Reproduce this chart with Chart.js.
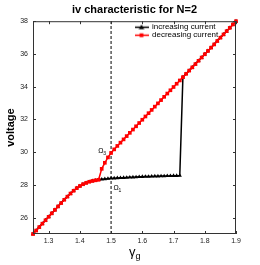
<!DOCTYPE html>
<html>
<head>
<meta charset="utf-8">
<script src="https://cdn.jsdelivr.net/npm/chart.js@4/dist/chart.umd.min.js"></script>
<style>
  html, body { margin: 0; padding: 0; background: #fff; }
  #ivChart { display: block; }
</style>
</head>
<body>
<canvas id="ivChart" width="260" height="265"></canvas>
<script>
// =========== DATA ============
const gamma = [
    1.25, 1.26, 1.27, 1.28, 1.29, 1.30, 1.31, 1.32, 1.33, 1.34,
    1.35, 1.36, 1.37, 1.38, 1.39, 1.40, 1.41, 1.42, 1.43, 1.44,
    1.45, 1.46, 1.47, 1.48, 1.49, 1.50, 1.51, 1.52, 1.53, 1.54,
    1.55, 1.56, 1.57, 1.58, 1.59, 1.60, 1.61, 1.62, 1.63, 1.64,
    1.65, 1.66, 1.67, 1.68, 1.69, 1.70, 1.71, 1.72, 1.73, 1.74,
    1.75, 1.76, 1.77, 1.78, 1.79, 1.80, 1.81, 1.82, 1.83, 1.84,
    1.85, 1.86, 1.87, 1.88, 1.89, 1.90
];

const increasingCurrent = [
    25.00, 25.21, 25.42, 25.63, 25.84, 26.05, 26.26, 26.47, 26.68, 26.89,
    27.09, 27.28, 27.47, 27.64, 27.80, 27.93, 28.04, 28.12, 28.19, 28.24,
    28.28, 28.31, 28.34, 28.36, 28.38, 28.40, 28.41, 28.42, 28.43, 28.44,
    28.45, 28.46, 28.47, 28.48, 28.49, 28.50, 28.51, 28.51, 28.52, 28.53,
    28.53, 28.54, 28.54, 28.55, 28.55, 28.56, 28.56, 28.57, 34.58, 34.78,
    34.98, 35.18, 35.38, 35.58, 35.78, 35.98, 36.18, 36.38, 36.58, 36.79,
    36.99, 37.19, 37.39, 37.59, 37.80, 38.00
];

const decreasingCurrent = [
    25.00, 25.21, 25.42, 25.63, 25.84, 26.05, 26.26, 26.47, 26.68, 26.89,
    27.09, 27.28, 27.47, 27.64, 27.80, 27.93, 28.04, 28.12, 28.19, 28.24,
    28.28, 28.31, 28.98, 29.35, 29.68, 29.95, 30.17, 30.38, 30.58, 30.78,
    30.98, 31.18, 31.38, 31.58, 31.78, 31.98, 32.18, 32.38, 32.58, 32.78,
    32.98, 33.18, 33.38, 33.58, 33.78, 33.98, 34.18, 34.38, 34.58, 34.78,
    34.98, 35.18, 35.38, 35.58, 35.78, 35.98, 36.18, 36.38, 36.58, 36.79,
    36.99, 37.19, 37.39, 37.59, 37.80, 38.00
];

const xTicks = [1.3, 1.4, 1.5, 1.6, 1.7, 1.8, 1.9];
const yTicks = [26, 28, 30, 32, 34, 36, 38];

// dashed marker at gamma_g = 1.5
const markerX = [1.5, 1.5];
const markerY = [25, 38];

// =========== HELPERS ============
function toPoints(xs, ys) {
    return xs.map((x, i) => ({ x: x, y: ys[i] }));
}

function legendIcon(color, style) {
    const c = document.createElement('canvas');
    c.width = 14;
    c.height = 7;
    const ctx = c.getContext('2d');
    ctx.strokeStyle = color;
    ctx.fillStyle = color;
    ctx.lineWidth = 1.5;
    ctx.beginPath();
    ctx.moveTo(0, 3.5);
    ctx.lineTo(14, 3.5);
    ctx.stroke();
    ctx.beginPath();
    if (style === 'triangle') {
        ctx.moveTo(7, 0.8);
        ctx.lineTo(9.8, 5.6);
        ctx.lineTo(4.2, 5.6);
        ctx.closePath();
    } else {
        ctx.rect(5.1, 1.6, 3.8, 3.8);
    }
    ctx.fill();
    return c;
}

const legendIcons = [legendIcon('#000', 'triangle'), legendIcon('#ff0000', 'rect')];

// frame, inward ticks, axis symbol and the Omega labels (matlab look)
const framePlugin = {
    id: 'frame',
    afterLayout(chart) {
        // legend sits inside the axes, upper right
        const lg = chart.legend;
        lg.left = chart.chartArea.right - 101;
        lg.top = chart.chartArea.top + 2;
    },
    afterDraw(chart) {
        const { ctx, chartArea: a, scales } = chart;
        const xs = scales.x, ys = scales.y;
        ctx.save();
        ctx.strokeStyle = '#333';
        ctx.lineWidth = 1;
        ctx.strokeRect(a.left + 0.5, a.top + 0.5, a.width - 1, a.height - 1);

        ctx.beginPath();
        xTicks.forEach(v => {
            const px = Math.round(xs.getPixelForValue(v)) + 0.5;
            ctx.moveTo(px, a.bottom); ctx.lineTo(px, a.bottom - 3);
            ctx.moveTo(px, a.top); ctx.lineTo(px, a.top + 3);
        });
        yTicks.forEach(v => {
            const py = Math.round(ys.getPixelForValue(v)) + 0.5;
            ctx.moveTo(a.left, py); ctx.lineTo(a.left + 3, py);
            ctx.moveTo(a.right, py); ctx.lineTo(a.right - 3, py);
        });
        ctx.stroke();

        // x axis label: gamma with subscript g
        const cx = (a.left + a.right) / 2;
        ctx.fillStyle = '#000';
        ctx.textBaseline = 'alphabetic';
        ctx.textAlign = 'right';
        ctx.font = '13px "Liberation Sans", Arial, sans-serif';
        ctx.fillText('\u03b3', cx + 1, 256);
        ctx.textAlign = 'left';
        ctx.font = '9px "Liberation Sans", Arial, sans-serif';
        ctx.fillText('g', cx + 1, 259);

        // Omega labels near the switching points
        const omega = (label, sub, gx, v) => {
            const px = xs.getPixelForValue(gx), py = ys.getPixelForValue(v);
            ctx.font = '7px "Liberation Sans", Arial, sans-serif';
            ctx.textAlign = 'left';
            ctx.fillText(label, px, py);
            ctx.font = '5px "Liberation Sans", Arial, sans-serif';
            ctx.fillText(sub, px + 5, py + 2.5);
        };
        omega('\u03a9', '3', 1.459, 29.95);
        omega('\u03a9', '1', 1.508, 27.7);
        ctx.restore();
    }
};

// =========== CHART ============
let ivChart;

function initChart() {
    const ctx = document.getElementById('ivChart').getContext('2d');
    ivChart = new Chart(ctx, {
        type: 'line',
        data: {
            datasets: [
                {
                    label: 'increasing current',
                    data: toPoints(gamma, increasingCurrent),
                    borderColor: '#000',
                    backgroundColor: '#000',
                    borderWidth: 1.5,
                    pointStyle: 'triangle',
                    pointRadius: 2.4,
                    pointBorderWidth: 0,
                    order: 1,
                    clip: false
                },
                {
                    label: 'decreasing current',
                    data: toPoints(gamma, decreasingCurrent),
                    borderColor: '#ff0000',
                    backgroundColor: '#ff0000',
                    borderWidth: 1.5,
                    pointStyle: 'rect',
                    pointRadius: 2.6,
                    pointBorderWidth: 0,
                    order: 0,
                    clip: false
                },
                {
                    label: 'marker',
                    data: toPoints(markerX, markerY),
                    borderColor: '#000',
                    borderWidth: 1,
                    borderDash: [3, 2],
                    pointRadius: 0,
                    order: 2
                }
            ]
        },
        options: {
            responsive: false,
            devicePixelRatio: 1,
            animation: false,
            layout: { padding: { left: 0, right: 24, top: 0, bottom: 0 } },
            plugins: {
                tooltip: { enabled: false },
                title: {
                    display: true,
                    text: 'iv characteristic for N=2',
                    fullSize: false,
                    color: '#000',
                    font: { family: '"Liberation Sans", Arial, sans-serif', size: 11, weight: 'bold' },
                    padding: { top: 3, bottom: 5 }
                },
                legend: {
                    display: true,
                    position: 'chartArea',
                    align: 'start',
                    labels: {
                        color: '#000',
                        font: { family: '"Liberation Sans", Arial, sans-serif', size: 8, lineHeight: 1.1 },
                        usePointStyle: true,
                        pointStyleWidth: 13,
                        padding: 0,
                        generateLabels(chart) {
                            const items = Chart.defaults.plugins.legend.labels.generateLabels(chart);
                            return items
                                .filter(it => it.datasetIndex < 2)
                                .sort((a, b) => a.datasetIndex - b.datasetIndex)
                                .map(it => { it.pointStyle = legendIcons[it.datasetIndex]; return it; });
                        }
                    }
                }
            },
            scales: {
                x: {
                    type: 'linear',
                    min: 1.25,
                    max: 1.9,
                    grid: { display: false, drawTicks: false },
                    border: { display: false },
                    afterBuildTicks: scale => { scale.ticks = xTicks.map(v => ({ value: v })); },
                    afterFit: scale => { scale.height = 31; },
                    ticks: {
                        color: '#222',
                        padding: 3,
                        maxRotation: 0,
                        font: { family: '"Liberation Sans", Arial, sans-serif', size: 7 },
                        callback: v => v.toFixed(1)
                    }
                },
                y: {
                    type: 'linear',
                    min: 25,
                    max: 38,
                    grid: { display: false, drawTicks: false },
                    border: { display: false },
                    afterBuildTicks: scale => { scale.ticks = yTicks.map(v => ({ value: v })); },
                    afterFit: scale => { scale.width = 33; },
                    title: {
                        display: true,
                        text: 'voltage',
                        color: '#000',
                        font: { family: '"Liberation Sans", Arial, sans-serif', size: 11, weight: 'bold' },
                        padding: { top: 4, bottom: 0 }
                    },
                    ticks: {
                        color: '#222',
                        padding: 5,
                        font: { family: '"Liberation Sans", Arial, sans-serif', size: 7 }
                    }
                }
            }
        },
        plugins: [framePlugin]
    });
}

initChart();
</script>
</body>
</html>
